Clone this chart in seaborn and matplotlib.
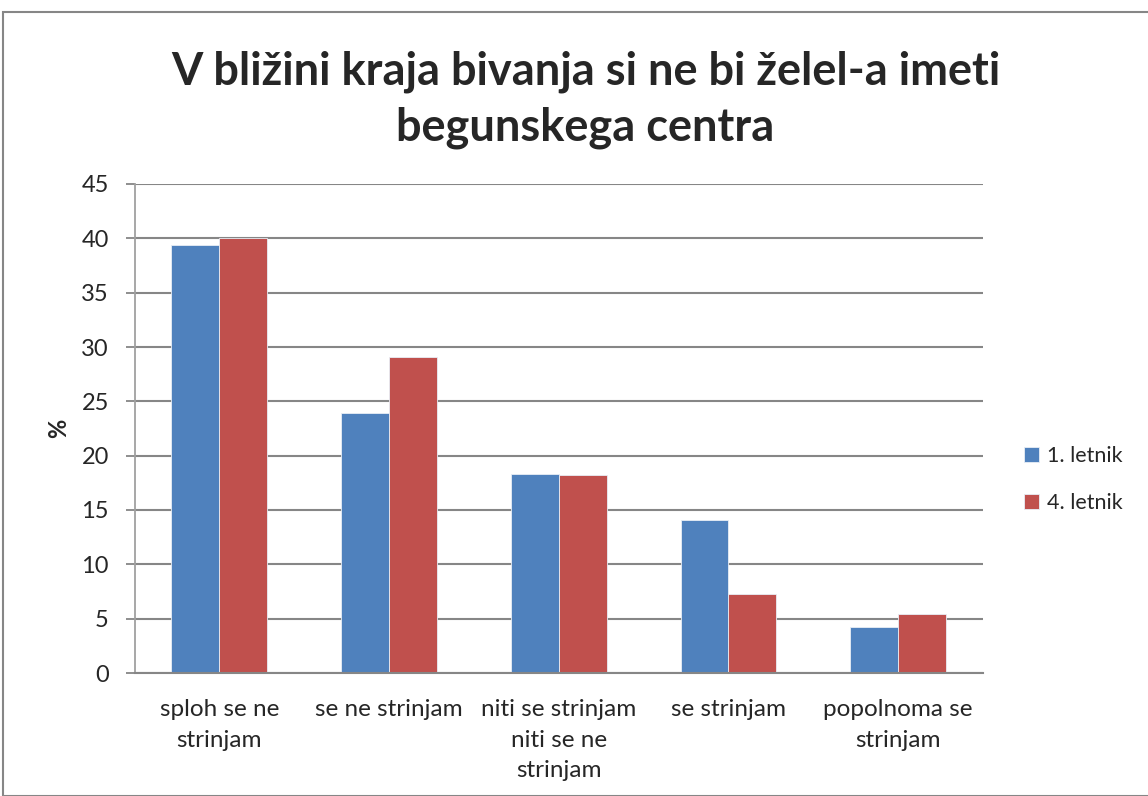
import matplotlib
matplotlib.use("Agg")
import matplotlib.pyplot as plt
import seaborn as sns
import pandas as pd
from matplotlib.patches import Rectangle

categories = ["sploh se ne\nstrinjam", "se ne strinjam", "niti se strinjam\nniti se ne\nstrinjam",
              "se strinjam", "popolnoma se\nstrinjam"]
series_names = ["1. letnik", "4. letnik"]
letnik1 = [39.4, 23.9, 18.3, 14.1, 4.2]
letnik4 = [40.0, 29.1, 18.2, 7.3, 5.4]
yticks = [0, 5, 10, 15, 20, 25, 30, 35, 40, 45]
title = "V bližini kraja bivanja si ne bi želel-a imeti\nbegunskega centra"
colors = ["#4F81BD", "#C0504D"]

df = pd.DataFrame({
    "kat": categories * 2,
    "serija": [series_names[0]] * 5 + [series_names[1]] * 5,
    "vrednost": letnik1 + letnik4,
})

sns.set_theme(style="white")
plt.rcParams["font.family"] = ["Lato", "DejaVu Sans"]

W, H = 1148, 796
fig = plt.figure(figsize=(W / 100, H / 100), dpi=100)
left, right, top, bottom = 134.5, 983, 184, 673
ax = fig.add_axes([left / W, 1 - bottom / H, (right - left) / W, (bottom - top) / H])

sns.barplot(data=df, x="kat", y="vrednost", hue="serija", palette=colors,
            width=0.565, ax=ax, order=categories, hue_order=series_names,
            edgecolor="#e8eef6", linewidth=0.6, saturation=1)

ax.set_ylim(0, 45)
ax.set_yticks(yticks)
ax.set_yticklabels([str(t) for t in yticks], fontsize=17)
ax.set_xlim(-0.5, 4.5)
ax.tick_params(axis="x", length=0, pad=19, labelsize=17.5)
for lbl in ax.get_xticklabels():
    lbl.set_linespacing(1.55)
ax.tick_params(axis="y", length=6.5, width=1.3, color="#868686", direction="out", pad=12, left=True)
ax.yaxis.grid(True, color="#868686", linewidth=1.5)
ax.set_axisbelow(True)
for s in ["top", "right"]:
    ax.spines[s].set_visible(False)
ax.spines["left"].set_color("#a0a0a0")
ax.spines["left"].set_linewidth(1.3)
ax.spines["bottom"].set_color("#868686")
ax.spines["bottom"].set_linewidth(1.5)
ax.set_xlabel("")
ax.set_ylabel("%", fontsize=17, fontweight="bold", labelpad=8)

leg = ax.legend(loc="center left", bbox_to_anchor=(1.025, 0.395), frameon=False,
                fontsize=15.5, handlelength=0.7, handleheight=0.7, handletextpad=0.4,
                labelspacing=1.25)

fig.suptitle(title, fontsize=32.5, fontweight="bold", x=0.51, y=0.937, linespacing=1.4)

fig.patches.append(Rectangle((3 / W, 0), 1.1, 1 - 12 / H, transform=fig.transFigure,
                             fill=False, edgecolor="#868686", linewidth=1.5))

fig.savefig("out.png", dpi=100)
